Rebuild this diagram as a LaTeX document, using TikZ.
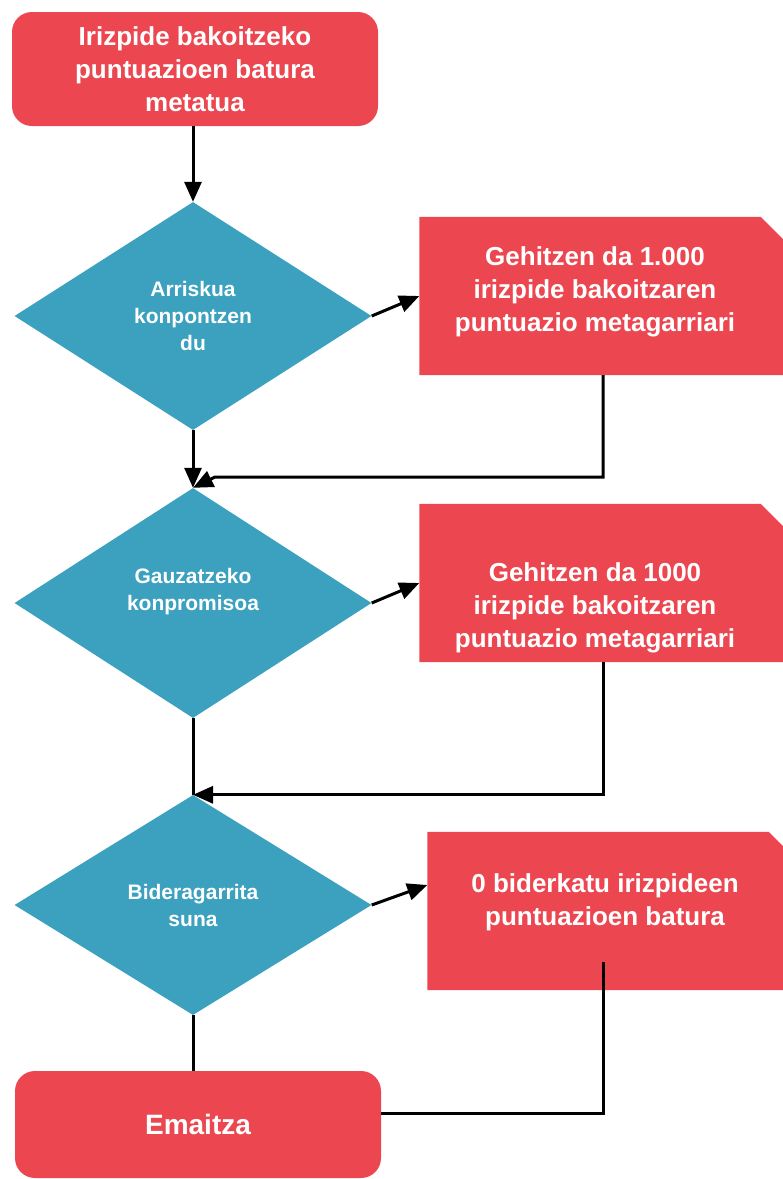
\documentclass[tikz,border=0pt]{standalone}
\usepackage{fontspec}
\setmainfont{Liberation Sans}
\usetikzlibrary{arrows.meta,shapes.geometric}
\definecolor{boxred}{RGB}{236,71,80}
\definecolor{decteal}{RGB}{59,161,191}
\tikzset{
    startend/.style={rectangle,rounded corners=20pt,fill=boxred,text=white,minimum width=366pt,minimum height=114pt,align=center,font=\fontsize{26}{33}\selectfont\bfseries},
    decision/.style={diamond,fill=decteal,text=white,inner sep=0pt,minimum width=357pt,align=center,font=\fontsize{21}{27}\selectfont\bfseries},
    process/.style={rectangle,minimum width=367pt,minimum height=158pt,inner sep=0pt},
    proctext/.style={text=white,align=center,font=\fontsize{26}{33}\selectfont\bfseries},
    flow/.style={-{Triangle[length=20pt,width=17pt]},line width=3pt,draw=black},
    link/.style={-,line width=3pt,draw=black},
}

\begin{document}
\begin{tikzpicture}[x=1pt,y=-1pt]
    \useasboundingbox (0,0) rectangle (783,1179);
    \clip (0,0) rectangle (783,1179);
    \node[startend] (sum) at (195,69) {Irizpide bakoitzeko\\puntuazioen batura\\metatua};
    \node[decision,minimum height=228pt] (d1) at (193,316) {Arriskua\\konpontzen\\du};
    \node[decision,minimum height=230pt] (d2) at (193,603) {Gauzatzeko\\konpromisoa\\\mbox{}};
    \node[decision,minimum height=220pt] (d3) at (193,905) {Bideragarrita\\suna};
    \node[startend,minimum height=107pt,font=\fontsize{28}{33}\selectfont\bfseries] (res) at (198,1124.5) {Emaitza};
    \node[process] (b1) at (603,296) {};
    \node[process] (b2) at (603,583) {};
    \node[process] (b3) at (611,911) {};
    % boxes with the cut corner
    \foreach \b in {b1,b2,b3}
        \fill[boxred] (\b.south west) |- ([xshift=-26pt]\b.north east) -- ([yshift=-26pt]\b.north east) |- cycle;
    \node[proctext] (b1t) at (595,292) {Gehitzen da 1.000\\irizpide bakoitzaren\\puntuazio metagarriari};
    \node[proctext] (b2t) at (595,608) {Gehitzen da 1000\\irizpide bakoitzaren\\puntuazio metagarriari};
    \node[proctext] (b3t) at (605,902) {0 biderkatu irizpideen\\puntuazioen batura};
    \coordinate (m1) at (215,477);
    \coordinate (m3) at (603,962);
    \draw[flow] (d1.north |- sum.south) -- (d1.north);
    \draw[flow] (d1.east) -- (b1.west);
    \draw[flow] (d1.south) -- (d2.north);
    \draw[flow] (b1.south) |- (m1) -- (d2.north);
    \draw[flow] (d2.east) -- (b2.west);
    \draw[link] (d2.south) -- (d3.north);
    \draw[flow] (b2.south) |- (d3.north);
    \draw[flow] (d3.east) -- ([yshift=26pt]b3.west);
    \draw[link] (d3.south) -- (d3.south |- res.north);
    \draw[link] (m3) |- ([yshift=11pt]res.east);
\end{tikzpicture}
\end{document}
